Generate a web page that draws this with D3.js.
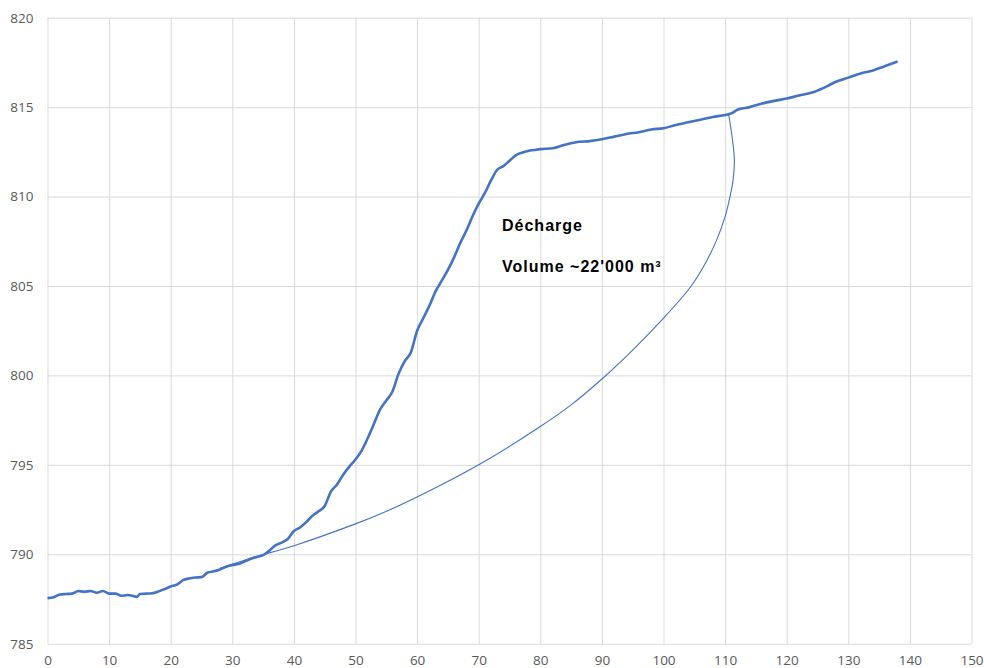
<!DOCTYPE html>
<html>
<head>
<meta charset="utf-8">
<script src="https://cdn.jsdelivr.net/npm/d3@7"></script>
<style>
  body { margin: 0; background: #fff; }
  .axis text { font-family: "Open Sans", "Liberation Sans", sans-serif; font-size: 13.5px; fill: #595959; }
  .axis line { stroke: #d9d9d9; }
  .axis path { display: none; }
  .note { font-family: "Liberation Sans", Arial, sans-serif; font-size: 16px; font-weight: bold; fill: #000; letter-spacing: 1px; }
</style>
</head>
<body>
<div id="chart"></div>
<script>
// DATA
const xTicks = [0, 10, 20, 30, 40, 50, 60, 70, 80, 90, 100, 110, 120, 130, 140, 150];
const yTicks = [785, 790, 795, 800, 805, 810, 815, 820];

// terrain profile (distance, altitude)
const profX = [0,1,2,3,4,5,6,7,8,9,10,11,12,13,14,14.5,15,16,17,18,19,20,21,22,23,24,25,26,27,28,29,30,31,32,33,34,35,36,37,38,39,40,41,42,43,44,45,46,47,48,49,50,51,52,53,54,55,56,57,58,59,60,61,62,63,64,65,66,67,68,69,70,71,72,73,74,75,76,77,78,79,80,82,84,86,88,90,92,94,96,98,100,102,104,106,108,110,111,112,114,116,118,120,122,124,126,127,128,130,132,134,136,138];
const profY = [787.55,787.6,787.75,787.78,787.8,787.95,787.9,787.95,787.85,787.95,787.8,787.8,787.68,787.72,787.66,787.62,787.78,787.8,787.82,787.92,788.05,788.2,788.3,788.55,788.65,788.7,788.72,788.98,789.05,789.15,789.3,789.4,789.45,789.6,789.75,789.85,789.95,790.2,790.5,790.65,790.85,791.3,791.5,791.8,792.15,792.4,792.7,793.5,793.9,794.45,794.9,795.3,795.8,796.5,797.3,798.1,798.6,799.1,800.1,800.8,801.3,802.5,803.2,803.9,804.7,805.3,805.9,806.6,807.4,808.1,808.9,809.6,810.2,810.9,811.5,811.7,812.0,812.3,812.45,812.55,812.6,812.65,812.7,812.9,813.05,813.1,813.2,813.35,813.5,813.6,813.75,813.82,814.0,814.15,814.3,814.45,814.56,814.65,814.85,815.0,815.2,815.35,815.48,815.65,815.8,816.08,816.25,816.42,816.65,816.88,817.05,817.3,817.55];

// hand-drawn outline of the landfill base
const arcX = [110.6,111.2,111.5,111.3,110.8,110.0,108.6,107.0,104.5,100,95,90,85,80,70,60,54,50,40,33,28];
const arcY = [814.56,813.16,812.05,810.93,810,808.88,807.55,806.4,805,803.2,801.42,799.8,798.35,797.14,795.0,793.2,792.25,791.7,790.48,789.78,789.22];

const noteLines = ["Décharge", "Volume ~22'000 m³"];

// LAYOUT
const W = 984, H = 668;
const padL = 47.5, padR = 971.5, padT = 17.7, padB = 643.7;

const svg = d3.select("#chart").append("svg")
  .attr("width", W).attr("height", H);

const x = d3.scaleLinear().domain([0, 150]).range([padL, padR]);
const y = d3.scaleLinear().domain([785, 820]).range([padB, padT]);

// grid + axes
svg.append("g").attr("class", "axis")
  .attr("transform", `translate(0,${padB})`)
  .call(d3.axisBottom(x).tickValues(xTicks).tickSize(-(padB - padT)).tickPadding(12));

svg.append("g").attr("class", "axis")
  .attr("transform", `translate(${padL},0)`)
  .call(d3.axisLeft(y).tickValues(yTicks).tickSize(-(padR - padL)).tickPadding(14));

// arc (thin)
const arcPts = arcX.map((d, i) => [d, arcY[i]]);
svg.append("path")
  .attr("d", d3.line().x(d => x(d[0])).y(d => y(d[1])).curve(d3.curveCatmullRom.alpha(0.5))(arcPts))
  .attr("fill", "none")
  .attr("stroke", "#4472c4")
  .attr("stroke-width", 1.1);

// profile (thick)
const profPts = profX.map((d, i) => [d, profY[i]]);
svg.append("path")
  .attr("d", d3.line().x(d => x(d[0])).y(d => y(d[1])).curve(d3.curveMonotoneX)(profPts))
  .attr("fill", "none")
  .attr("stroke", "#4472c4")
  .attr("stroke-width", 2.6)
  .attr("stroke-linejoin", "round");

// annotation
svg.selectAll("text.note").data(noteLines).join("text")
  .attr("class", "note")
  .attr("x", 502)
  .attr("y", (d, i) => 231 + i * 41)
  .text(d => d);
</script>
</body>
</html>
